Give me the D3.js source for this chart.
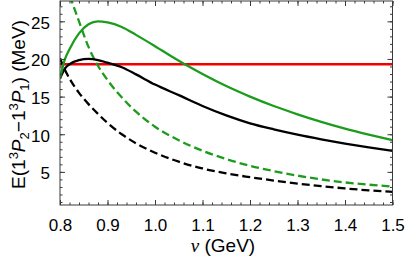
<!DOCTYPE html>
<html>
<head>
<meta charset="utf-8">
<script src="https://cdn.jsdelivr.net/npm/d3@7"></script>
<style>
  html, body { margin: 0; padding: 0; background: #fff; }
  svg { display: block; }
  text { font-family: "Liberation Sans", Arial, sans-serif; fill: #000; }
</style>
</head>
<body>
<svg id="chart" width="407" height="266"></svg>
<script>
// ---- data ----
const nu = [0.80, 0.81, 0.82, 0.84, 0.86, 0.88, 0.90, 0.93, 0.96, 1.00, 1.05, 1.10, 1.15, 1.20, 1.25, 1.30, 1.35, 1.40, 1.45, 1.50];
const greenSolid  = [17.4, 19.9, 21.3, 23.4, 24.6, 25.0, 24.85, 24.25, 23.2, 21.7, 19.75, 18.0, 16.4, 15.0, 13.75, 12.65, 11.65, 10.75, 9.95, 9.2];
const blackSolid  = [17.4, 18.7, 19.3, 19.85, 20.0, 19.85, 19.5, 18.9, 17.95, 16.6, 15.2, 13.75, 12.5, 11.45, 10.65, 9.95, 9.33, 8.76, 8.25, 7.8];
const blackDashed = [20.1, 18.6, 17.4, 15.5, 14.0, 12.7, 11.5, 10.0, 8.8, 7.55, 6.35, 5.45, 4.8, 4.3, 3.85, 3.45, 3.1, 2.8, 2.55, 2.35];
const greenDashed = [33.0, 30.7, 28.6, 25.0, 21.6, 19.1, 17.2, 14.9, 13.0, 11.0, 9.2, 7.8, 6.7, 5.8, 5.1, 4.5, 4.0, 3.6, 3.3, 3.05];
const redConst    = [19.3, 19.3];
const redNu       = [0.80, 1.50];

const xTickValues = [0.8, 0.9, 1.0, 1.1, 1.2, 1.3, 1.4, 1.5];
const xTickLabels = ["0.8", "0.9", "1.0", "1.1", "1.2", "1.3", "1.4", "1.5"];
const yTickValues = [5, 10, 15, 20, 25];
const yTickLabels = ["5", "10", "15", "20", "25"];

const xDomain = [0.8, 1.5];
const yDomain = [0.6, 27.7];

// ---- layout ----
const svg = d3.select("#chart");
const L = 60, R = 392.5, T = 1, B = 205;
const x = d3.scaleLinear().domain(xDomain).range([L, R]);
const y = d3.scaleLinear().domain(yDomain).range([B, T]);

const green = "#1c9c1c", red = "#f20000", frameCol = "#3a3a3a";

svg.append("defs").append("clipPath").attr("id", "clip")
  .append("rect").attr("x", L).attr("y", T).attr("width", R - L).attr("height", B - T);

const plot = svg.append("g").attr("clip-path", "url(#clip)");

function series(xs, ys, color, dash, w) {
  const line = d3.line().x((d, i) => x(xs[i])).y(d => y(d)).curve(d3.curveMonotoneX);
  plot.append("path").datum(ys)
    .attr("d", line)
    .attr("fill", "none")
    .attr("stroke", color)
    .attr("stroke-width", w || 2.3)
    .attr("stroke-dasharray", dash || null);
}
series(redNu, redConst, red, null, 2.6);
series(nu, blackDashed, "#000", "8,4");
series(nu, greenDashed, green, "8,4");
series(nu, blackSolid, "#000");
series(nu, greenSolid, green);

// ---- frame with inward ticks on all sides ----
const xMinor = d3.range(0.8, 1.5001, 0.02);
const yMinor = d3.range(1, 27.5, 1);

function ticksG(axisGen, transform) {
  const g = svg.append("g").attr("transform", transform).call(axisGen);
  g.select(".domain").remove();
  g.selectAll("line").attr("stroke", frameCol).attr("stroke-width", 1);
  return g;
}
// minor ticks
ticksG(d3.axisBottom(x).tickValues(xMinor).tickSizeInner(-2.5).tickSizeOuter(0).tickFormat(""), `translate(0,${B})`);
ticksG(d3.axisTop(x).tickValues(xMinor).tickSizeInner(-2.5).tickSizeOuter(0).tickFormat(""), `translate(0,${T})`);
ticksG(d3.axisLeft(y).tickValues(yMinor).tickSizeInner(-2.5).tickSizeOuter(0).tickFormat(""), `translate(${L},0)`);
ticksG(d3.axisRight(y).tickValues(yMinor).tickSizeInner(-2.5).tickSizeOuter(0).tickFormat(""), `translate(${R},0)`);
// major ticks
const xb = ticksG(d3.axisBottom(x).tickValues(xTickValues).tickSizeInner(-5).tickSizeOuter(0)
  .tickPadding(14).tickFormat((d, i) => xTickLabels[i]), `translate(0,${B})`);
xb.selectAll("text").attr("font-size", 17).attr("font-family", "Liberation Sans, Arial, sans-serif").attr("fill", "#000");
ticksG(d3.axisTop(x).tickValues(xTickValues).tickSizeInner(-5).tickSizeOuter(0).tickFormat(""), `translate(0,${T})`);
const yl = ticksG(d3.axisLeft(y).tickValues(yTickValues).tickSizeInner(-5).tickSizeOuter(0)
  .tickPadding(10).tickFormat((d, i) => yTickLabels[i]), `translate(${L},0)`);
yl.selectAll("text").attr("font-size", 17).attr("dy", "0.4em").attr("font-family", "Liberation Sans, Arial, sans-serif").attr("fill", "#000");
ticksG(d3.axisRight(y).tickValues(yTickValues).tickSizeInner(-5).tickSizeOuter(0).tickFormat(""), `translate(${R},0)`);

svg.append("rect").attr("x", L).attr("y", T).attr("width", R - L).attr("height", B - T)
  .attr("fill", "none").attr("stroke", frameCol).attr("stroke-width", 1);

// ---- axis titles ----
const xt = svg.append("text").attr("x", 223).attr("y", 252).attr("text-anchor", "middle").attr("font-size", 19);
xt.append("tspan").attr("font-style", "italic").attr("font-family", "Liberation Serif, serif").text("ν");
xt.append("tspan").text(" (GeV)");

const yt = svg.append("text").attr("transform", "translate(25,104.5) rotate(-90)")
  .attr("text-anchor", "middle").attr("font-size", 19);
yt.append("tspan").text("E(1");
yt.append("tspan").attr("font-size", 13).attr("dy", -7.5).text("3");
yt.append("tspan").attr("font-style", "italic").attr("dy", 7.5).text("P");
yt.append("tspan").attr("font-size", 13).attr("dy", 4).text("2");
yt.append("tspan").attr("dy", -4).text("\u22121");
yt.append("tspan").attr("font-size", 13).attr("dy", -7.5).text("3");
yt.append("tspan").attr("font-style", "italic").attr("dy", 7.5).text("P");
yt.append("tspan").attr("font-size", 13).attr("dy", 4).text("1");
yt.append("tspan").attr("dy", -4).text(")  (MeV)");
</script>
</body>
</html>
